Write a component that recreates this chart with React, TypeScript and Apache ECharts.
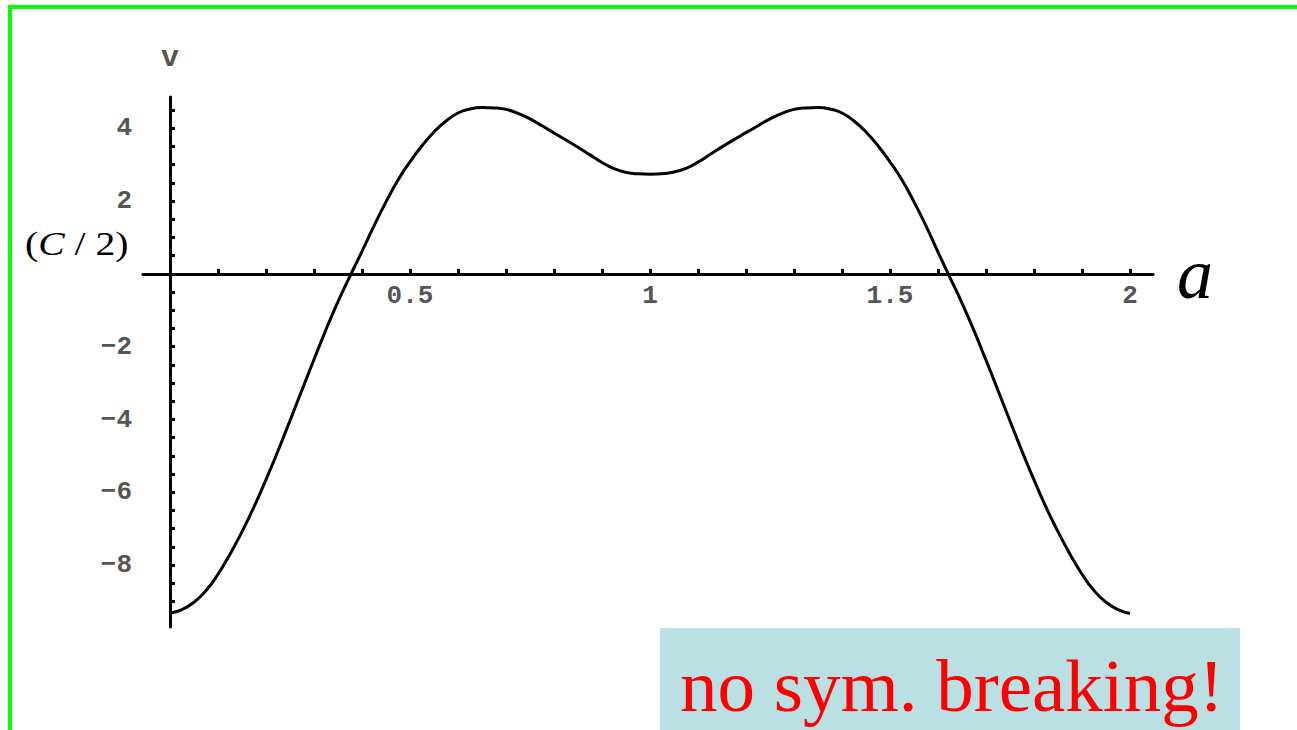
import React, { useEffect, useRef } from "react";
import * as echarts from "echarts";

// Potential v as a function of the parameter a
const aValues = [
  0, 0.025, 0.05, 0.075, 0.1, 0.125, 0.15, 0.175, 0.2, 0.225, 0.25, 0.275, 0.3, 0.325, 0.35, 0.375,
  0.4, 0.425, 0.45, 0.475, 0.5, 0.525, 0.55, 0.575, 0.6, 0.625, 0.65, 0.675, 0.7, 0.725, 0.75,
  0.775, 0.8, 0.825, 0.85, 0.875, 0.9, 0.925, 0.95, 0.975, 1.0,
  1.025, 1.05, 1.075, 1.1, 1.125, 1.15, 1.175, 1.2, 1.225, 1.25, 1.275, 1.3, 1.325, 1.35, 1.375,
  1.4, 1.425, 1.45, 1.475, 1.5, 1.525, 1.55, 1.575, 1.6, 1.625, 1.65, 1.675, 1.7, 1.725, 1.75,
  1.775, 1.8, 1.825, 1.85, 1.875, 1.9, 1.925, 1.95, 1.975, 2.0,
];
const vValues = [
  -9.32, -9.22, -9.02, -8.7, -8.25, -7.7, -7.08, -6.4, -5.65, -4.86, -4.03, -3.19, -2.35, -1.53, -0.76, -0.06,
  0.62, 1.32, 1.98, 2.58, 3.08, 3.52, 3.9, 4.2, 4.42, 4.53, 4.57, 4.56, 4.52, 4.41, 4.26,
  4.07, 3.87, 3.68, 3.48, 3.27, 3.06, 2.89, 2.79, 2.75, 2.74,
  2.75, 2.8, 2.9, 3.07, 3.28, 3.49, 3.69, 3.88, 4.07, 4.26, 4.41, 4.52, 4.56, 4.57, 4.53,
  4.42, 4.2, 3.9, 3.52, 3.08, 2.58, 1.98, 1.32, 0.6, -0.1, -0.8, -1.56, -2.37, -3.2, -4.04,
  -4.87, -5.66, -6.41, -7.08, -7.7, -8.25, -8.7, -9.02, -9.22, -9.33,
];

// Tick labels and tick marks
const xTickLabels = [0.5, 1, 1.5, 2];
const yTickLabels = [-8, -6, -4, -2, 2, 4];
const xTickMarks = [
  0.1, 0.2, 0.3, 0.4, 0.5, 0.6, 0.7, 0.8, 0.9, 1.0, 1.1, 1.2, 1.3, 1.4, 1.5, 1.6, 1.7, 1.8, 1.9, 2.0,
];
const yTickMarks = [
  -9, -8.5, -8, -7.5, -7, -6.5, -6, -5.5, -5, -4.5, -4, -3.5, -3, -2.5, -2, -1.5, -1, -0.5,
  0.5, 1, 1.5, 2, 2.5, 3, 3.5, 4, 4.5,
];

const xAxisName = "a";
const yAxisName = "v";
const noteText = "no sym. breaking!";

// plot area and axis ranges
const GRID_TOP = 97;
const GRID_HEIGHT = 530;
const Y_MIN = -9.7;
const Y_MAX = 4.86;
const X_MIN = -0.05625;
const X_MAX = 2.0479;

const tickFont = {
  fontFamily: "'Liberation Mono', 'DejaVu Sans Mono', monospace",
  fontSize: 26,
  fontWeight: "bold" as const,
  color: "#555",
};

const fmt = (v: number) => (v < 0 ? "\u2212" + String(-v) : String(v));

export default function App() {
  const ref = useRef<HTMLDivElement>(null);

  useEffect(() => {
    if (!ref.current) return;
    const chart = echarts.init(ref.current, undefined, { renderer: "svg" });
    const data = aValues.map((a, i) => [a, vValues[i]]);

    // lift the horizontal axis (with its labels) from the grid bottom up to v = 0
    const zeroOffset = -(GRID_HEIGHT * (0 - Y_MIN)) / (Y_MAX - Y_MIN);

    chart.setOption({
      animation: false,
      backgroundColor: "#ffffff",
      grid: {
        left: 143,
        right: 144,
        top: GRID_TOP,
        height: GRID_HEIGHT,
        containLabel: false,
        outerBoundsMode: "none",
      },
      xAxis: {
        type: "value",
        min: X_MIN,
        max: X_MAX,
        offset: zeroOffset,
        name: xAxisName,
        nameLocation: "end",
        nameGap: 24,
        nameTextStyle: {
          fontFamily: "'Liberation Serif', 'Times New Roman', serif",
          fontStyle: "italic",
          fontSize: 72,
          color: "#000",
          padding: [0, 0, 16, 0],
        },
        axisLine: { onZero: false, lineStyle: { color: "#000", width: 3 } },
        axisTick: {
          show: true,
          inside: true,
          length: 5,
          customValues: xTickMarks,
          lineStyle: { color: "#000", width: 3 },
        },
        axisLabel: {
          customValues: xTickLabels,
          formatter: fmt,
          margin: 9,
          ...tickFont,
        },
        splitLine: { show: false },
      },
      yAxis: {
        type: "value",
        min: Y_MIN,
        max: Y_MAX,
        name: yAxisName,
        nameLocation: "end",
        nameGap: 24,
        nameTextStyle: { ...tickFont, fontSize: 30 },
        axisLine: { onZero: true, lineStyle: { color: "#000", width: 3 } },
        axisTick: {
          show: true,
          inside: true,
          length: 5,
          customValues: yTickMarks,
          lineStyle: { color: "#000", width: 3 },
        },
        axisLabel: {
          customValues: yTickLabels,
          formatter: fmt,
          margin: 11,
          padding: [7, 0, 0, 0],
          ...tickFont,
        },
        splitLine: { show: false },
      },
      series: [
        {
          type: "line",
          data,
          smooth: true,
          showSymbol: false,
          lineStyle: { color: "#000", width: 3 },
          z: 3,
        },
      ],
      graphic: [
        // frame
        {
          type: "line",
          shape: { x1: 8, y1: 7, x2: 1297, y2: 7 },
          style: { stroke: "#00ff00", lineWidth: 4 },
        },
        {
          type: "line",
          shape: { x1: 10, y1: 5, x2: 10, y2: 730 },
          style: { stroke: "#00ff00", lineWidth: 4 },
        },
        // side label
        {
          type: "text",
          x: 25,
          y: 244,
          scaleX: 1.2,
          style: {
            text: "{n|(}{i|C}{n| / 2)}",
            verticalAlign: "middle",
            rich: {
              n: {
                fontFamily: "'Liberation Serif', 'Times New Roman', serif",
                fontSize: 33,
                fill: "#000",
              },
              i: {
                fontFamily: "'Liberation Serif', 'Times New Roman', serif",
                fontSize: 33,
                fontStyle: "italic",
                fill: "#000",
              },
            },
          },
        },
        // note box
        {
          type: "rect",
          shape: { x: 660, y: 628, width: 580, height: 102 },
          style: { fill: "#bbe0e3" },
        },
        {
          type: "text",
          x: 680,
          y: 685,
          style: {
            text: noteText,
            fontFamily: "'Liberation Serif', 'Times New Roman', serif",
            fontSize: 75,
            fill: "#ff0000",
            verticalAlign: "middle",
          },
        },
      ],
    });

    return () => chart.dispose();
  }, []);

  return (
    <div
      ref={ref}
      style={{ position: "fixed", left: 0, top: 0, width: 1297, height: 730 }}
    />
  );
}
